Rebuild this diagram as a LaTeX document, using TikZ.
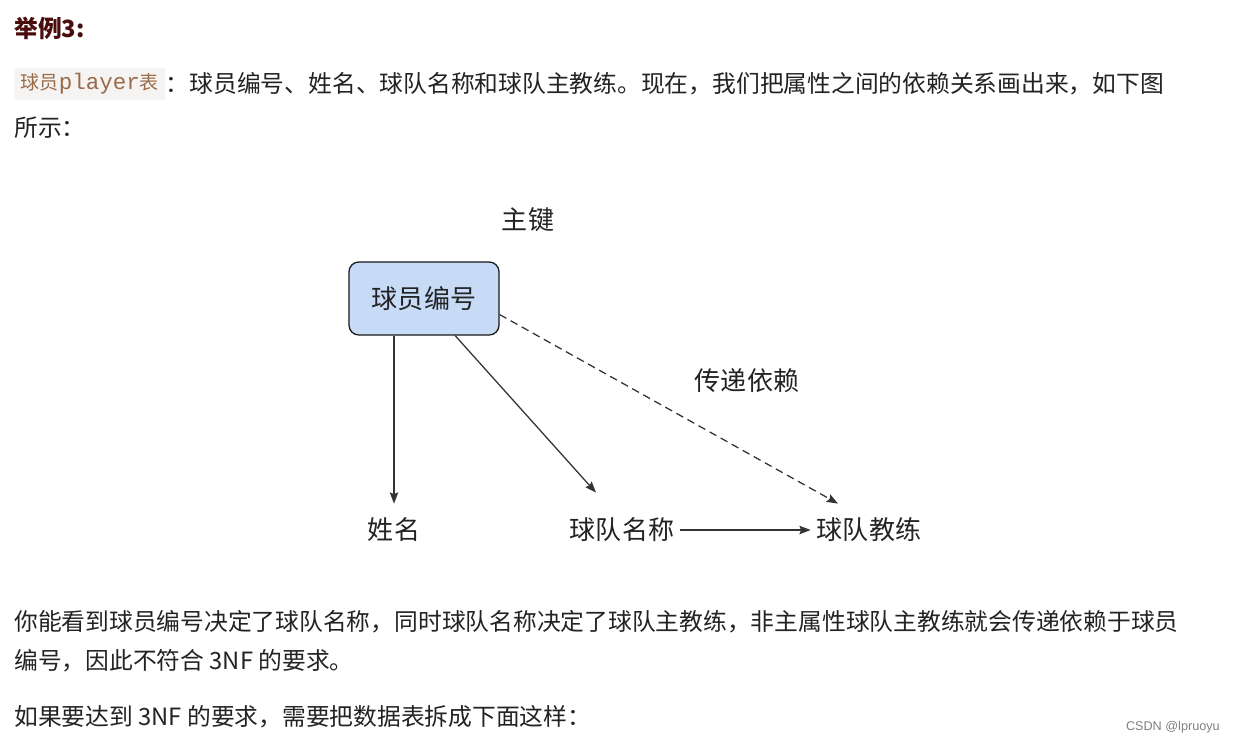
\documentclass[tikz,border=0pt]{standalone}
\usepackage{fontspec}
\usepackage{xcolor}
\setmainfont{Noto Sans CJK SC}
\newfontfamily\codefont{Liberation Mono}
\newfontfamily\markfont{Liberation Sans}
\usetikzlibrary{arrows.meta, positioning, calc}
\definecolor{bodytext}{HTML}{232323}
\definecolor{titlered}{HTML}{4A0D0D}
\definecolor{codebg}{HTML}{F5F4F3}
\definecolor{codetext}{HTML}{9A6B4A}
\definecolor{keyblue}{HTML}{C7DBF7}
\definecolor{linegray}{HTML}{333333}

\begin{document}
\begin{tikzpicture}[
    x=0.025cm, y=-0.025cm,
    body/.style={anchor=west, inner sep=0pt, text=bodytext,
                font=\fontsize{16.9pt}{20pt}\selectfont},
    heading/.style={anchor=west, inner sep=0pt, text=titlered,
                   font=\fontsize{16.9pt}{20pt}\selectfont\bfseries},
    codespan/.style={anchor=west, fill=codebg, text=codetext, inner sep=0pt,
                    minimum width=3.775cm, minimum height=0.8cm,
                    rounded corners=2pt, font=\fontsize{13.5pt}{15pt}\selectfont},
    keybox/.style={rectangle, draw=black!90, fill=keyblue, line width=0.9pt,
                  minimum width=3.75cm, minimum height=1.825cm,
                  rounded corners=7pt, text=bodytext,
                  font=\fontsize{18.5pt}{22pt}\selectfont},
    attr/.style={inner xsep=4.3pt, inner ysep=10pt, text=bodytext,
                font=\fontsize{18.5pt}{22pt}\selectfont},
    dep/.style={-{Stealth[length=8pt, width=6pt, inset=1.2pt]}, line width=0.9pt, linegray},
    watermarktext/.style={anchor=east, inner sep=0pt, text=black!50,
                font=\markfont\fontsize{9pt}{11pt}\selectfont}
]
\useasboundingbox[fill=white] (0,0) rectangle (1235,744);

% Text above the figure
\node[heading] (example) at (14,28) {举例3:};
\node[codespan] (tablename) at (14,84) {球员{\codefont\fontsize{16pt}{18pt}\selectfont player}表};
\node[body, right=0pt of tablename] (intro) {：球员编号、姓名、球队名称和球队主教练。现在，我们把属性之间的依赖关系画出来，如下图};
\node[body] (intro2) at (14,128) {所示：};

% Attributes
\node[attr, inner sep=0pt] (pklabel) at (528,220) {主键};
\node[keybox] (pk) at (424,298.5) {球员编号};
\node[attr] (name) at (394,530) {姓名};
\node[attr] (team) at (622,530) {球队名称};
\node[attr] (coach) at (869,530) {球队教练};
\node[attr, inner sep=0pt] (translabel) at (747,381) {传递依赖};

% Dependencies
\draw[dep] (pk.south -| name.north) -- (name.north);
\draw[dep] (pk.-50) -- ($(team.north)+(-26,-11)$);
\draw[dep] (team.east) -- (coach.west);
\draw[dep, dash pattern=on 5.5pt off 3.5pt] (pk.-12) -- ($(coach.north)+(-31,0)$);

% Text below the figure
\node[body] (para1) at (14,622) {你能看到球员编号决定了球队名称，同时球队名称决定了球队主教练，非主属性球队主教练就会传递依赖于球员};
\node[body] (para2) at (14,661) {编号，因此不符合 3NF 的要求。};
\node[body] (para3) at (14,717) {如果要达到 3NF 的要求，需要把数据表拆成下面这样：};
\node[watermarktext] (watermark) at (1220,727) {CSDN @lpruoyu};

\end{tikzpicture}
\end{document}
